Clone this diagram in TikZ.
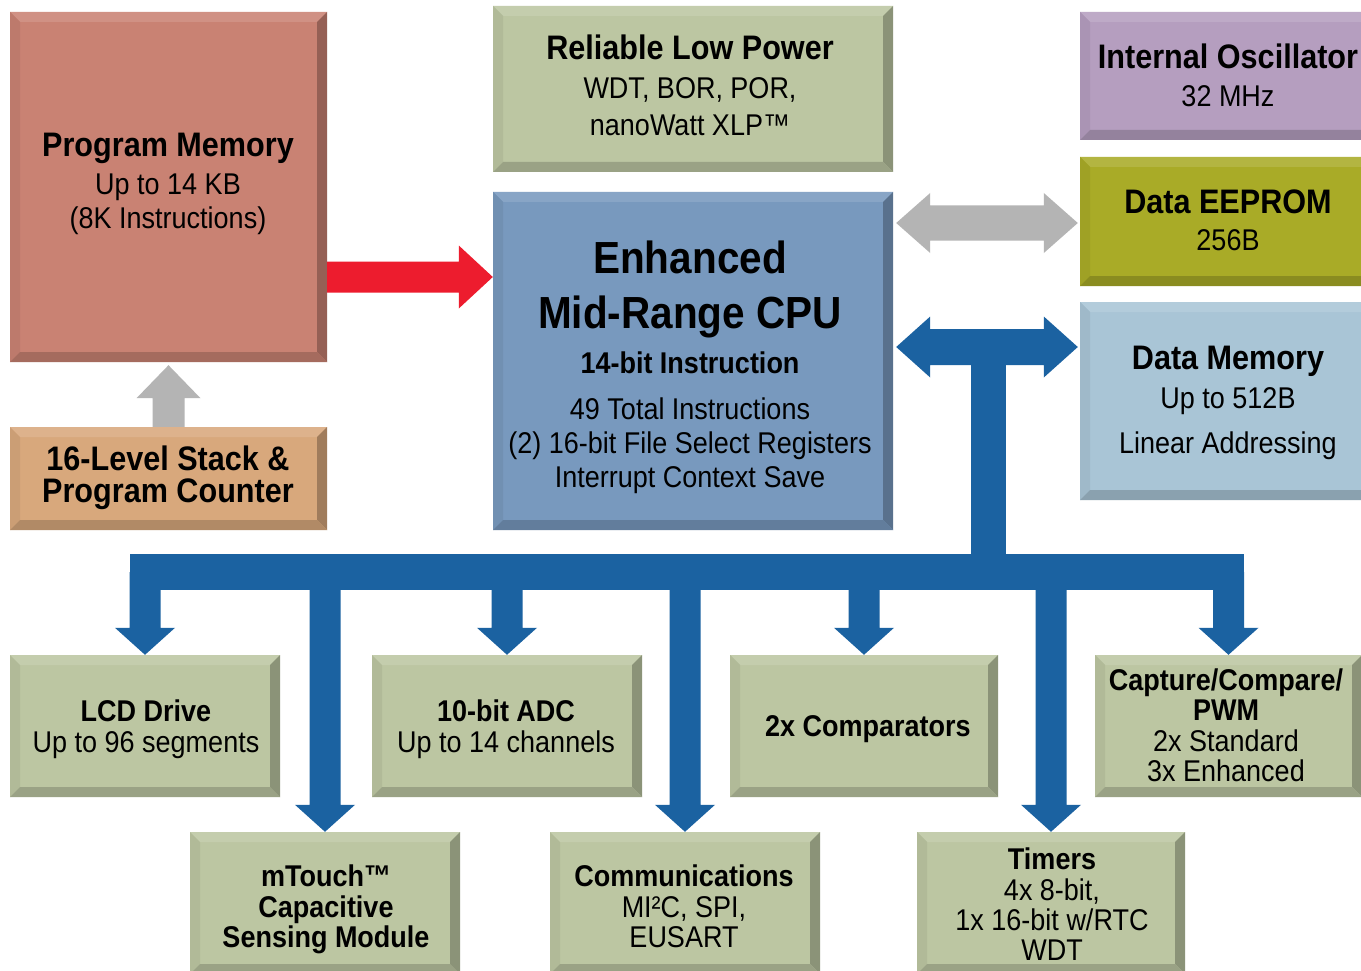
\documentclass[tikz,border=0pt]{standalone}
\usepackage{fontspec}
\setmainfont{Liberation Sans}[FakeStretch=0.9]
\usetikzlibrary{calc}
\definecolor{pmC}{HTML}{C98273}
\definecolor{stkC}{HTML}{D8A87C}
\definecolor{sageC}{HTML}{BCC6A2}
\definecolor{cpuC}{HTML}{7899BE}
\definecolor{oscC}{HTML}{B59EBF}
\definecolor{eepC}{HTML}{A9AB27}
\definecolor{dmC}{HTML}{A9C5D6}
\definecolor{busC}{HTML}{1B62A1}
\definecolor{redC}{HTML}{ED1C2E}
\definecolor{grayC}{HTML}{B4B4B4}
\newcommand\fT{\fontsize{34}{36}\selectfont\bfseries}
\newcommand\fB{\fontsize{30}{32}\selectfont}
\newcommand\fS{\fontsize{30}{32}\selectfont\bfseries}
\newcommand\fG{\fontsize{45}{48}\selectfont\bfseries}
\tikzset{
  bevbox/.style={draw=none, fill=#1, inner sep=0pt, path picture={
    \path (path picture bounding box.north west) coordinate (bvnw)
          (path picture bounding box.south east) coordinate (bvse);
    \path (bvse |- bvnw) coordinate (bvne) (bvnw |- bvse) coordinate (bvsw);
    \path ($(bvnw)+(10,10)$) coordinate (inw) ($(bvne)+(-10,10)$) coordinate (ine)
          ($(bvse)+(-10,-10)$) coordinate (ise) ($(bvsw)+(10,-10)$) coordinate (isw);
    \fill[#1!88!white] (bvnw) -- (bvne) -- (ine) -- (inw) -- cycle;
    \fill[#1!94!black] (bvnw) -- (bvsw) -- (isw) -- (inw) -- cycle;
    \fill[#1!74!black] (bvne) -- (bvse) -- (ise) -- (ine) -- cycle;
    \fill[#1!82!black] (bvsw) -- (bvse) -- (ise) -- (isw) -- cycle;
  }},
  tl/.style={anchor=base, inner sep=0pt, text=black}
}
\newcommand{\BX}[6]{%
  \pgfmathsetmacro{\bxw}{#4-#2}\pgfmathsetmacro{\bxh}{#5-#3}%
  \pgfmathsetmacro{\bxcx}{(#2+#4)/2}\pgfmathsetmacro{\bxcy}{(#3+#5)/2}%
  \node[bevbox=#6, minimum width=\bxw pt, minimum height=\bxh pt] (#1) at (\bxcx,\bxcy) {};}
\newcommand{\TL}[5]{\node[tl,font=#4] (#1) at (#2,#3) {#5};}
% horizontal double arrow: A (left tip), B (right tip), half shaft, half head, head length, colour
\newcommand{\HD}[6]{%
  \fill[#6] (#1) -- ($(#1)+(#5,-#4)$) -- ($(#1)+(#5,-#3)$) -- ($(#2)+(-#5,-#3)$) -- ($(#2)+(-#5,-#4)$) -- (#2)
   -- ($(#2)+(-#5,#4)$) -- ($(#2)+(-#5,#3)$) -- ($(#1)+(#5,#3)$) -- ($(#1)+(#5,#4)$) -- cycle;}
% right arrow: tail, tip
\newcommand{\RA}[6]{%
  \fill[#6] ($(#1)+(0,-#3)$) -- ($(#2)+(-#5,-#3)$) -- ($(#2)+(-#5,-#4)$) -- (#2) -- ($(#2)+(-#5,#4)$)
   -- ($(#2)+(-#5,#3)$) -- ($(#1)+(0,#3)$) -- cycle;}
% down arrow: tail (top), tip (bottom)
\newcommand{\DA}[6]{%
  \fill[#6] ($(#1)+(-#3,0)$) -- ($(#2)+(-#3,-#5)$) -- ($(#2)+(-#4,-#5)$) -- (#2) -- ($(#2)+(#4,-#5)$)
   -- ($(#2)+(#3,-#5)$) -- ($(#1)+(#3,0)$) -- cycle;}
% up arrow: tail (bottom), tip (top)
\newcommand{\UA}[6]{%
  \fill[#6] ($(#1)+(-#3,0)$) -- ($(#2)+(-#3,#5)$) -- ($(#2)+(-#4,#5)$) -- (#2) -- ($(#2)+(#4,#5)$)
   -- ($(#2)+(#3,#5)$) -- ($(#1)+(#3,0)$) -- cycle;}
\begin{document}
\begin{tikzpicture}[x=1pt,y=-1pt]
\useasboundingbox (0,0) rectangle (1361,971);
\clip (0,0) rectangle (1361,971);
\fill[white] (0,0) rectangle (1361,971);
% boxes
\BX{pm}{10}{12}{327}{362}{pmC}
\BX{stk}{10}{427}{327}{530}{stkC}
\BX{rlp}{493}{6}{893}{172}{sageC}
\BX{cpu}{493}{192}{893}{530}{cpuC}
\BX{osc}{1080}{12}{1378}{140}{oscC}
\BX{eep}{1080}{157}{1378}{286}{eepC}
\BX{dm}{1080}{302}{1378}{500}{dmC}
\BX{lcd}{10}{655}{280}{797}{sageC}
\BX{adc}{372}{655}{642}{797}{sageC}
\BX{cmp}{730}{655}{998}{797}{sageC}
\BX{ccp}{1095}{655}{1362}{797}{sageC}
\BX{mt}{190}{832}{460}{974}{sageC}
\BX{com}{550}{832}{820}{974}{sageC}
\BX{tim}{917}{832}{1185}{974}{sageC}
% texts
\TL{pm1}{168}{157}{\fT}{Program Memory}
\TL{pm2}{168}{194}{\fB}{Up to 14 KB}
\TL{pm3}{168}{228}{\fB}{(8K Instructions)}
\TL{stk1}{168}{470}{\fT}{16-Level Stack \&}
\TL{stk2}{168}{502}{\fT}{Program Counter}
\TL{rlp1}{690}{60}{\fT}{Reliable Low Power}
\TL{rlp2}{690}{99}{\fB}{WDT, BOR, POR,}
\TL{rlp3}{690}{136}{\fB}{nanoWatt XLP™}
\TL{cpu1}{690}{273}{\fG}{Enhanced}
\TL{cpu2}{690}{328}{\fG}{Mid-Range CPU}
\TL{cpu3}{690}{373}{\fS}{14-bit Instruction}
\TL{cpu4}{690}{419}{\fB}{49 Total Instructions}
\TL{cpu5}{690}{453}{\fB}{(2) 16-bit File Select Registers}
\TL{cpu6}{690}{487}{\fB}{Interrupt Context Save}
\TL{osc1}{1228}{69}{\fT}{Internal Oscillator}
\TL{osc2}{1228}{107}{\fB}{32 MHz}
\TL{eep1}{1228}{214}{\fT}{Data EEPROM}
\TL{eep2}{1228}{251}{\fB}{256B}
\TL{dm1}{1228}{369}{\fT}{Data Memory}
\TL{dm2}{1228}{408}{\fB}{Up to 512B}
\TL{dm3}{1228}{453}{\fB}{Linear Addressing}
\TL{lcd1}{146}{721}{\fS}{LCD Drive}
\TL{lcd2}{146}{752}{\fB}{Up to 96 segments}
\TL{adc1}{506}{721}{\fS}{10-bit ADC}
\TL{adc2}{506}{752}{\fB}{Up to 14 channels}
\TL{cmp1}{868}{736}{\fS}{2x Comparators}
\TL{ccp1}{1226}{690}{\fS}{Capture/Compare/}
\TL{ccp2}{1226}{720}{\fS}{PWM}
\TL{ccp3}{1226}{751}{\fB}{2x Standard}
\TL{ccp4}{1226}{781}{\fB}{3x Enhanced}
\TL{mt1}{326}{886}{\fS}{mTouch™}
\TL{mt2}{326}{917}{\fS}{Capacitive}
\TL{mt3}{326}{947}{\fS}{Sensing Module}
\TL{com1}{684}{886}{\fS}{Communications}
\TL{com2}{684}{917}{\fB}{MI²C, SPI,}
\TL{com3}{684}{947}{\fB}{EUSART}
\TL{tim1}{1052}{869}{\fS}{Timers}
\TL{tim2}{1052}{900}{\fB}{4x 8-bit,}
\TL{tim3}{1052}{930}{\fB}{1x 16-bit w/RTC}
\TL{tim4}{1052}{960}{\fB}{WDT}
% connectors
\coordinate (redT) at (pm.east |- 0,277);
\coordinate (redH) at (cpu.west |- 0,277);
\RA{redT}{redH}{15.5}{31.5}{34}{redC}
\coordinate (stT) at (stk.north);
\coordinate (stH) at ($(pm.south)+(0,3)$);
\UA{stT}{stH}{16}{32}{33}{grayC}
\coordinate (gA) at ($(cpu.east |- 0,223)+(3,0)$);
\coordinate (gB) at ($(eep.west |- 0,223)+(-2,0)$);
\HD{gA}{gB}{17.5}{30}{34}{grayC}
\coordinate (tj) at (988,347);
\coordinate (bA) at ($(cpu.east |- tj)+(3,0)$);
\coordinate (bB) at ($(dm.west |- tj)+(-2,0)$);
\fill[busC] ($(tj)+(-17.5,0)$) rectangle ($(tj |- 0,572)+(17.5,0)$);
\HD{bA}{bB}{18}{30.5}{34}{busC}
\fill[busC] ($(lcd.north |- 0,554)+(-15.5,0)$) rectangle ($(ccp.north |- 0,590)+(15.5,0)$);
\foreach \n in {lcd,adc,cmp,ccp,mt,com,tim}{
  \coordinate (dT) at (\n.north |- 0,572);
  \DA{dT}{\n.north}{15.5}{30}{27}{busC}
}
\end{tikzpicture}
\end{document}
